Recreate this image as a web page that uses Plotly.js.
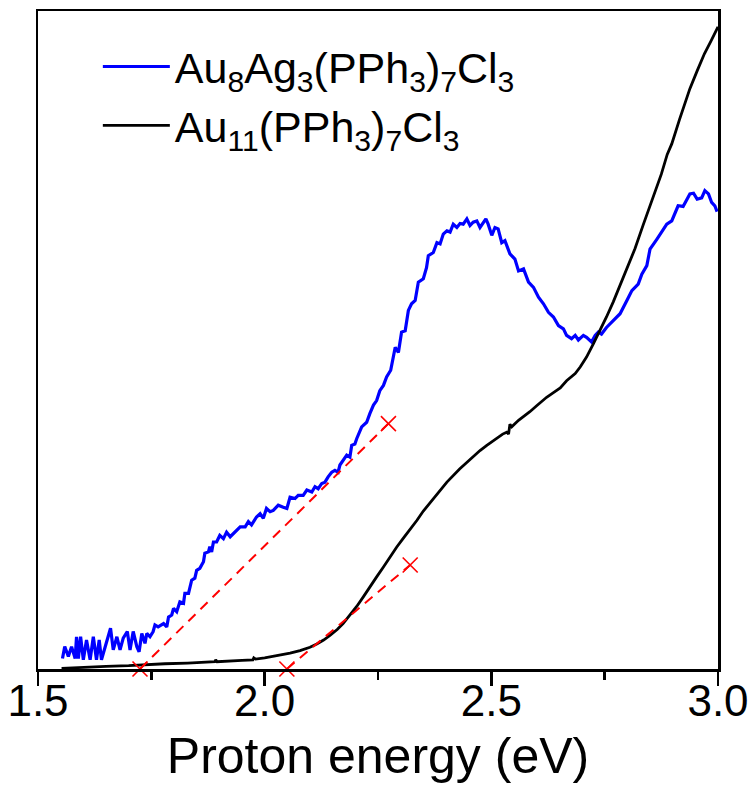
<!DOCTYPE html>
<html>
<head>
<meta charset="utf-8">
<script src="https://cdn.plot.ly/plotly-3.0.1.min.js"></script>
<style>html,body{margin:0;padding:0;background:#fff;}#chart{width:754px;height:791px;}</style>
</head>
<body>
<div id="chart"></div>
<script>
// Blue: Au8Ag3(PPh3)7Cl3
var blueX = [1.554,1.559,1.567,1.574,1.582,1.585,1.589,1.594,1.600,1.607,1.615,1.622,1.629,1.635,1.640,1.648,1.655,1.660,1.666,1.674,1.681,1.688,1.697,1.703,1.710,1.718,1.723,1.729,1.736,1.740,1.747,1.754,1.758,1.765,1.777,1.784,1.788,1.795,1.799,1.806,1.813,1.821,1.824,1.832,1.839,1.846,1.850,1.857,1.865,1.868,1.876,1.879,1.883,1.887,1.894,1.901,1.909,1.916,1.924,1.935,1.946,1.957,1.964,1.971,1.982,1.990,1.997,2.004,2.012,2.019,2.030,2.041,2.049,2.056,2.067,2.074,2.085,2.093,2.104,2.111,2.118,2.126,2.133,2.140,2.148,2.155,2.162,2.166,2.173,2.181,2.188,2.192,2.199,2.203,2.214,2.225,2.232,2.240,2.247,2.254,2.262,2.269,2.278,2.284,2.288,2.295,2.302,2.310,2.317,2.324,2.332,2.339,2.350,2.357,2.361,2.372,2.380,2.387,2.394,2.402,2.409,2.416,2.424,2.431,2.438,2.446,2.453,2.460,2.468,2.475,2.482,2.488,2.493,2.501,2.508,2.515,2.523,2.530,2.541,2.552,2.560,2.571,2.582,2.593,2.604,2.615,2.626,2.637,2.648,2.659,2.666,2.677,2.685,2.692,2.703,2.710,2.721,2.729,2.736,2.743,2.754,2.769,2.784,2.799,2.810,2.824,2.832,2.843,2.850,2.865,2.876,2.887,2.898,2.912,2.923,2.938,2.946,2.954,2.964,2.971,2.979,2.986,2.993,2.998];
var blueY = [0.016,0.034,0.019,0.034,0.016,0.049,0.016,0.049,0.014,0.044,0.014,0.049,0.014,0.044,0.014,0.034,0.049,0.062,0.029,0.049,0.029,0.047,0.057,0.029,0.057,0.034,0.026,0.054,0.039,0.054,0.049,0.057,0.067,0.064,0.069,0.064,0.079,0.082,0.092,0.087,0.102,0.100,0.115,0.115,0.135,0.138,0.150,0.153,0.163,0.176,0.178,0.186,0.178,0.193,0.193,0.203,0.198,0.208,0.201,0.208,0.216,0.216,0.224,0.219,0.231,0.236,0.229,0.244,0.239,0.241,0.249,0.246,0.244,0.261,0.259,0.264,0.264,0.272,0.269,0.277,0.274,0.282,0.284,0.292,0.299,0.302,0.299,0.310,0.317,0.325,0.322,0.340,0.342,0.350,0.368,0.375,0.388,0.401,0.408,0.423,0.431,0.444,0.454,0.479,0.489,0.481,0.512,0.514,0.545,0.555,0.560,0.588,0.593,0.610,0.628,0.633,0.648,0.646,0.661,0.666,0.664,0.676,0.671,0.677,0.676,0.684,0.674,0.679,0.681,0.671,0.679,0.684,0.676,0.659,0.671,0.669,0.648,0.651,0.631,0.623,0.605,0.608,0.588,0.580,0.565,0.555,0.542,0.535,0.522,0.517,0.507,0.502,0.507,0.500,0.507,0.504,0.497,0.507,0.512,0.509,0.519,0.530,0.540,0.560,0.575,0.585,0.600,0.613,0.638,0.653,0.664,0.676,0.681,0.704,0.703,0.722,0.723,0.714,0.716,0.727,0.722,0.709,0.704,0.695];

// Black: Au11(PPh3)7Cl3
var blackX = [1.552,1.600,1.650,1.700,1.725,1.780,1.830,1.890,1.892,1.895,1.950,1.974,1.976,1.980,2.000,2.019,2.034,2.056,2.078,2.100,2.115,2.130,2.144,2.160,2.173,2.190,2.203,2.218,2.232,2.247,2.262,2.276,2.291,2.306,2.321,2.336,2.350,2.365,2.380,2.402,2.430,2.455,2.475,2.490,2.508,2.525,2.534,2.538,2.541,2.545,2.560,2.572,2.585,2.600,2.622,2.637,2.652,2.666,2.685,2.696,2.710,2.725,2.740,2.754,2.769,2.784,2.799,2.817,2.835,2.857,2.875,2.888,2.898,2.915,2.930,2.938,2.954,2.970,2.985,3.000];
var blackY = [0.001,0.003,0.004,0.005,0.006,0.008,0.009,0.011,0.014,0.011,0.013,0.014,0.017,0.015,0.017,0.019,0.021,0.024,0.028,0.033,0.038,0.044,0.051,0.060,0.069,0.083,0.095,0.110,0.125,0.140,0.155,0.170,0.185,0.199,0.212,0.226,0.240,0.253,0.266,0.284,0.304,0.320,0.332,0.340,0.349,0.357,0.360,0.357,0.372,0.368,0.378,0.384,0.391,0.400,0.413,0.420,0.427,0.438,0.449,0.459,0.474,0.494,0.514,0.535,0.558,0.583,0.608,0.639,0.675,0.718,0.752,0.782,0.798,0.835,0.866,0.882,0.909,0.935,0.955,0.976];

// Tangent (onset) lines
var tangentBlueX = [1.725, 2.273];
var tangentBlueY = [0.000, 0.373];
var tangentBlackX = [2.049, 2.321];
var tangentBlackY = [0.000, 0.158];

var tickVals = [1.5, 2.0, 2.5, 3.0];
var tickText = ['1.5', '2.0', '2.5', '3.0'];

var FONT = 'Liberation Sans, Arial, Helvetica, sans-serif';

var traces = [
  {x: blueX, y: blueY, mode: 'lines', name: 'Au<sub>8</sub>Ag<sub>3</sub>(PPh<sub>3</sub>)<sub>7</sub>Cl<sub>3</sub>',
   line: {color: '#0000ff', width: 3.2}},
  {x: blackX, y: blackY, mode: 'lines', name: 'Au<sub>11</sub>(PPh<sub>3</sub>)<sub>7</sub>Cl<sub>3</sub>',
   line: {color: '#000000', width: 2.8}},
  {x: tangentBlueX, y: tangentBlueY, mode: 'lines+markers', showlegend: false, cliponaxis: false,
   line: {color: '#ff0000', width: 2, dash: '10px,7px'},
   marker: {symbol: 'x-thin-open', size: 15, line: {color: '#ff0000', width: 1.6}}},
  {x: tangentBlackX, y: tangentBlackY, mode: 'lines+markers', showlegend: false, cliponaxis: false,
   line: {color: '#ff0000', width: 2, dash: '10px,7px'},
   marker: {symbol: 'x-thin-open', size: 15, line: {color: '#ff0000', width: 1.6}}}
];

var layout = {
  width: 754, height: 791,
  margin: {l: 38, r: 36, t: 11, b: 122},
  paper_bgcolor: '#fff', plot_bgcolor: '#fff',
  font: {family: FONT, color: '#000'},
  showlegend: true,
  legend: {x: 0.088, y: 0.968, xanchor: 'left', yanchor: 'top', bgcolor: 'rgba(0,0,0,0)',
           font: {family: FONT, size: 43, color: '#000'}, itemwidth: 67, tracegroupgap: 0},
  xaxis: {
    range: [1.5, 3.0], tickvals: tickVals, ticktext: tickText,
    showgrid: false, zeroline: false,
    showline: true, linecolor: '#000', linewidth: 2.5, mirror: true,
    ticks: 'outside', ticklen: 14, tickwidth: 2.5, tickcolor: '#000',
    ticklabelstandoff: -22,
    minor: {dtick: 0.25, tick0: 1.5, ticks: 'outside', ticklen: 8, tickwidth: 2.5, tickcolor: '#000', showgrid: false},
    tickfont: {family: FONT, size: 44, color: '#000'},
    title: {text: 'Proton energy (eV)', font: {family: FONT, size: 50, color: '#000'}, standoff: 14}
  },
  yaxis: {
    range: [0, 1], showgrid: false, zeroline: false,
    showline: true, linecolor: '#000', linewidth: 2.5, mirror: true,
    ticks: '', showticklabels: false
  }
};

Plotly.newPlot('chart', traces, layout, {displayModeBar: false, staticPlot: true});
</script>
</body>
</html>
